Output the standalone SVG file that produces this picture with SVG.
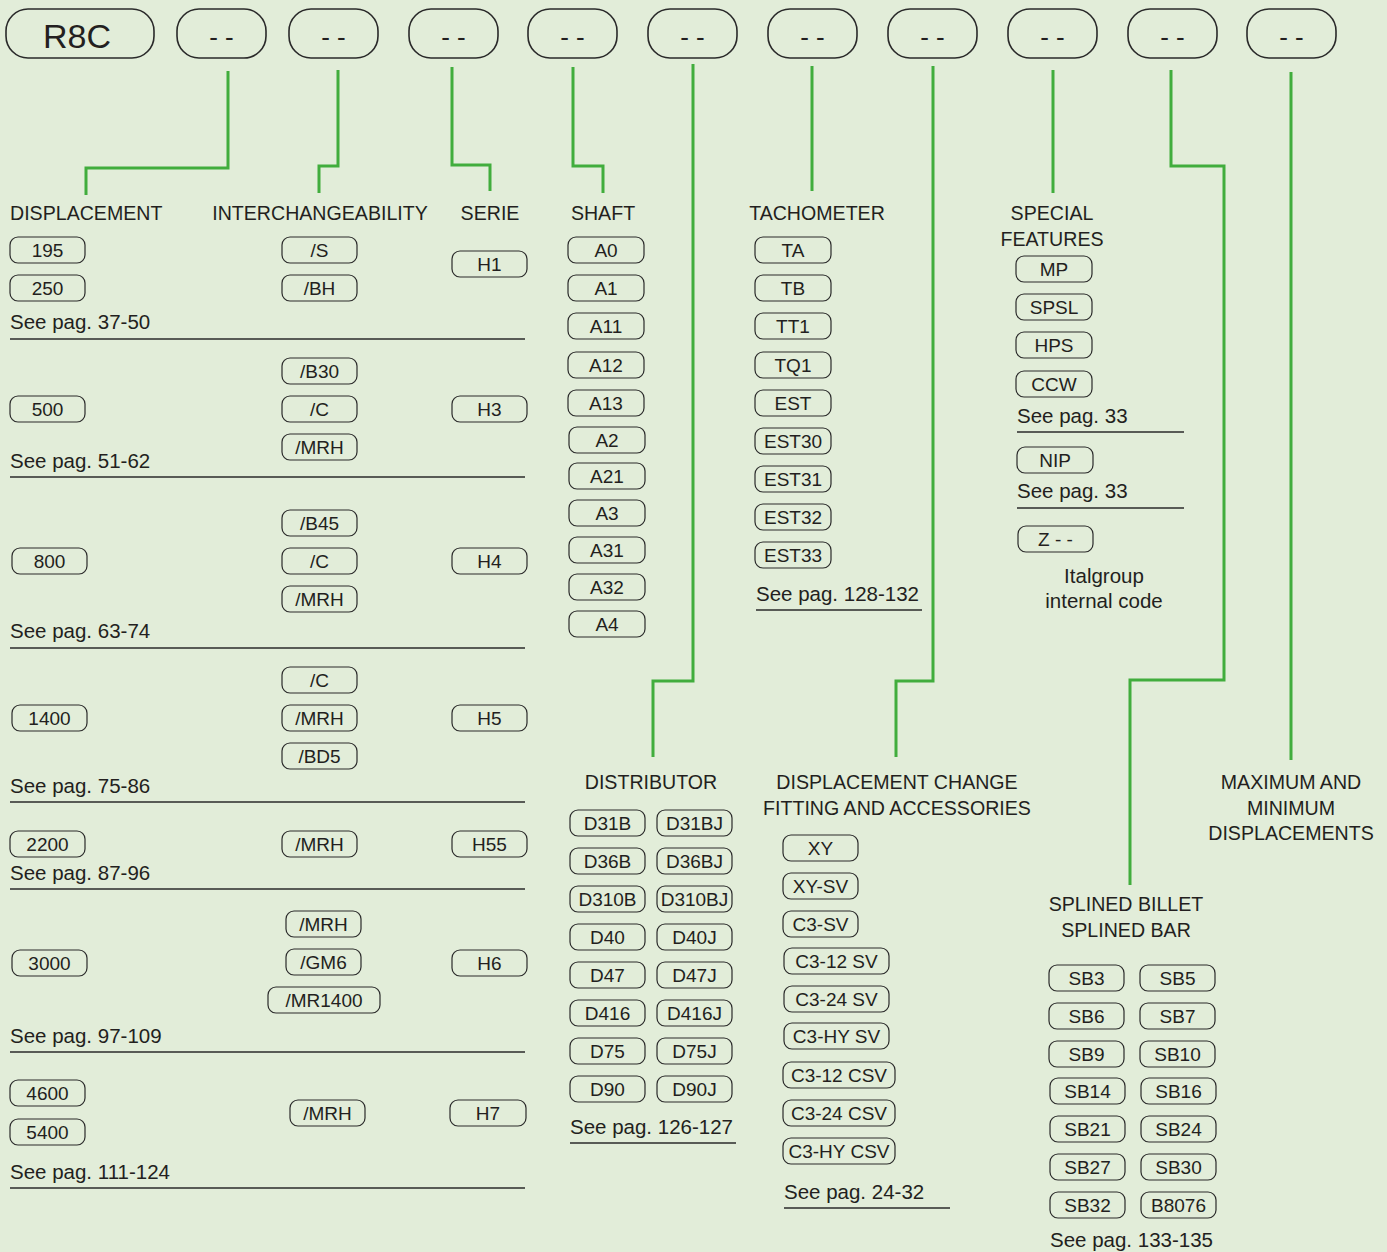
<svg xmlns="http://www.w3.org/2000/svg" width="1387" height="1252" viewBox="0 0 1387 1252">
<style>
text{font-family:"Liberation Sans",Arial,sans-serif;font-size:19px;fill:#231f20}
.m{text-anchor:middle}
.h{font-size:19.6px}
.s{font-size:20.5px}
.hb{fill:none;stroke:#2a2a2a;stroke-width:1.6}
.pl{fill:none;stroke:#2a2a2a;stroke-width:1.2}
.sep{stroke:#2a2a2a;stroke-width:1.3}
.cn{fill:none;stroke:#41ad3d;stroke-width:3}
.hd{font-size:26px}
.big{font-size:34px}
</style>
<rect width="1387" height="1252" fill="#e2edd9"/>

<g id="header">
<g id="h0"><rect class="hb" x="6" y="9" width="148" height="49" rx="22"/><text class="m big" x="77" y="48">R8C</text></g>
<g id="h1"><rect class="hb" x="177" y="9" width="89" height="49" rx="22"/><text class="m hd" x="221.5" y="46">- -</text></g>
<g id="h2"><rect class="hb" x="289" y="9" width="89" height="49" rx="22"/><text class="m hd" x="333.5" y="46">- -</text></g>
<g id="h3"><rect class="hb" x="409" y="9" width="89" height="49" rx="22"/><text class="m hd" x="453.5" y="46">- -</text></g>
<g id="h4"><rect class="hb" x="528" y="9" width="89" height="49" rx="22"/><text class="m hd" x="572.5" y="46">- -</text></g>
<g id="h5"><rect class="hb" x="648" y="9" width="89" height="49" rx="22"/><text class="m hd" x="692.5" y="46">- -</text></g>
<g id="h6"><rect class="hb" x="768" y="9" width="89" height="49" rx="22"/><text class="m hd" x="812.5" y="46">- -</text></g>
<g id="h7"><rect class="hb" x="888" y="9" width="89" height="49" rx="22"/><text class="m hd" x="932.5" y="46">- -</text></g>
<g id="h8"><rect class="hb" x="1008" y="9" width="89" height="49" rx="22"/><text class="m hd" x="1052.5" y="46">- -</text></g>
<g id="h9"><rect class="hb" x="1128" y="9" width="89" height="49" rx="22"/><text class="m hd" x="1172.5" y="46">- -</text></g>
<g id="h10"><rect class="hb" x="1247" y="9" width="89" height="49" rx="22"/><text class="m hd" x="1291.5" y="46">- -</text></g>
</g>

<g id="connectors">
<path class="cn" d="M228 71V168H86V195"/>
<path class="cn" d="M338 70V166H319V193"/>
<path class="cn" d="M452 67V165H490V191"/>
<path class="cn" d="M573 67V166H603V193"/>
<path class="cn" d="M693 64V681H653V757"/>
<path class="cn" d="M812 66V191"/>
<path class="cn" d="M933 66V681H896V757"/>
<path class="cn" d="M1053 70V193"/>
<path class="cn" d="M1171 70V166H1224V680H1130V885"/>
<path class="cn" d="M1291 72V760"/>
</g>

<g id="headings">
<text class="h" x="10" y="220">DISPLACEMENT</text>
<text class="m h" x="320" y="220">INTERCHANGEABILITY</text>
<text class="m h" x="490" y="220">SERIE</text>
<text class="m h" x="603" y="220">SHAFT</text>
<text class="m h" x="817" y="220">TACHOMETER</text>
<text class="m h" x="1052" y="220">SPECIAL</text>
<text class="m h" x="1052" y="246">FEATURES</text>
<text class="m h" x="651" y="789">DISTRIBUTOR</text>
<text class="m h" x="897" y="789">DISPLACEMENT CHANGE</text>
<text class="m h" x="897" y="815">FITTING AND ACCESSORIES</text>
<text class="m h" x="1291" y="789">MAXIMUM AND</text>
<text class="m h" x="1291" y="815">MINIMUM</text>
<text class="m h" x="1291" y="840">DISPLACEMENTS</text>
<text class="m h" x="1126" y="911">SPLINED BILLET</text>
<text class="m h" x="1126" y="937">SPLINED BAR</text>
</g>

<g id="displacement">
<g id="d195"><rect class="pl" x="10" y="237" width="75" height="26" rx="8"/><text class="m" x="47.5" y="257">195</text></g>
<g id="d250"><rect class="pl" x="10" y="275" width="75" height="26" rx="8"/><text class="m" x="47.5" y="295">250</text></g>
<text class="s" x="10" y="329">See pag. 37-50</text>
<line class="sep" x1="10" y1="339" x2="525" y2="339"/>
<g id="d500"><rect class="pl" x="10" y="396" width="75" height="26" rx="8"/><text class="m" x="47.5" y="416">500</text></g>
<text class="s" x="10" y="468">See pag. 51-62</text>
<line class="sep" x1="10" y1="477" x2="525" y2="477"/>
<g id="d800"><rect class="pl" x="12" y="548" width="75" height="26" rx="8"/><text class="m" x="49.5" y="568">800</text></g>
<text class="s" x="10" y="638">See pag. 63-74</text>
<line class="sep" x1="10" y1="648" x2="525" y2="648"/>
<g id="d1400"><rect class="pl" x="12" y="705" width="75" height="26" rx="8"/><text class="m" x="49.5" y="725">1400</text></g>
<text class="s" x="10" y="793">See pag. 75-86</text>
<line class="sep" x1="10" y1="802" x2="525" y2="802"/>
<g id="d2200"><rect class="pl" x="10" y="831" width="75" height="26" rx="8"/><text class="m" x="47.5" y="851">2200</text></g>
<text class="s" x="10" y="880">See pag. 87-96</text>
<line class="sep" x1="10" y1="889" x2="525" y2="889"/>
<g id="d3000"><rect class="pl" x="12" y="950" width="75" height="26" rx="8"/><text class="m" x="49.5" y="970">3000</text></g>
<text class="s" x="10" y="1043">See pag. 97-109</text>
<line class="sep" x1="10" y1="1052" x2="525" y2="1052"/>
<g id="d4600"><rect class="pl" x="10" y="1080" width="75" height="26" rx="8"/><text class="m" x="47.5" y="1100">4600</text></g>
<g id="d5400"><rect class="pl" x="10" y="1119" width="75" height="26" rx="8"/><text class="m" x="47.5" y="1139">5400</text></g>
<text class="s" x="10" y="1179">See pag. 111-124</text>
<line class="sep" x1="10" y1="1188" x2="525" y2="1188"/>
</g>

<g id="interchangeability">
<g><rect class="pl" x="282" y="237" width="75" height="26" rx="8"/><text class="m" x="319.5" y="257">/S</text></g>
<g><rect class="pl" x="282" y="275" width="75" height="26" rx="8"/><text class="m" x="319.5" y="295">/BH</text></g>
<g><rect class="pl" x="282" y="358" width="75" height="26" rx="8"/><text class="m" x="319.5" y="378">/B30</text></g>
<g><rect class="pl" x="282" y="396" width="75" height="26" rx="8"/><text class="m" x="319.5" y="416">/C</text></g>
<g><rect class="pl" x="282" y="434" width="75" height="26" rx="8"/><text class="m" x="319.5" y="454">/MRH</text></g>
<g><rect class="pl" x="282" y="510" width="75" height="26" rx="8"/><text class="m" x="319.5" y="530">/B45</text></g>
<g><rect class="pl" x="282" y="548" width="75" height="26" rx="8"/><text class="m" x="319.5" y="568">/C</text></g>
<g><rect class="pl" x="282" y="586" width="75" height="26" rx="8"/><text class="m" x="319.5" y="606">/MRH</text></g>
<g><rect class="pl" x="282" y="667" width="75" height="26" rx="8"/><text class="m" x="319.5" y="687">/C</text></g>
<g><rect class="pl" x="282" y="705" width="75" height="26" rx="8"/><text class="m" x="319.5" y="725">/MRH</text></g>
<g><rect class="pl" x="282" y="743" width="75" height="26" rx="8"/><text class="m" x="319.5" y="763">/BD5</text></g>
<g><rect class="pl" x="282" y="831" width="75" height="26" rx="8"/><text class="m" x="319.5" y="851">/MRH</text></g>
<g><rect class="pl" x="286" y="911" width="75" height="26" rx="8"/><text class="m" x="323.5" y="931">/MRH</text></g>
<g><rect class="pl" x="286" y="949" width="75" height="26" rx="8"/><text class="m" x="323.5" y="969">/GM6</text></g>
<g><rect class="pl" x="268" y="987" width="112" height="26" rx="8"/><text class="m" x="324" y="1007">/MR1400</text></g>
<g><rect class="pl" x="290" y="1100" width="75" height="26" rx="8"/><text class="m" x="327.5" y="1120">/MRH</text></g>
</g>

<g id="serie">
<g><rect class="pl" x="452" y="251" width="75" height="26" rx="8"/><text class="m" x="489.5" y="271">H1</text></g>
<g><rect class="pl" x="452" y="396" width="75" height="26" rx="8"/><text class="m" x="489.5" y="416">H3</text></g>
<g><rect class="pl" x="452" y="548" width="75" height="26" rx="8"/><text class="m" x="489.5" y="568">H4</text></g>
<g><rect class="pl" x="452" y="705" width="75" height="26" rx="8"/><text class="m" x="489.5" y="725">H5</text></g>
<g><rect class="pl" x="452" y="831" width="75" height="26" rx="8"/><text class="m" x="489.5" y="851">H55</text></g>
<g><rect class="pl" x="452" y="950" width="75" height="26" rx="8"/><text class="m" x="489.5" y="970">H6</text></g>
<g><rect class="pl" x="450" y="1100" width="76" height="26" rx="8"/><text class="m" x="488" y="1120">H7</text></g>
</g>

<g id="shaft">
<g><rect class="pl" x="568" y="237" width="76" height="26" rx="8"/><text class="m" x="606" y="257">A0</text></g>
<g><rect class="pl" x="568" y="275" width="76" height="26" rx="8"/><text class="m" x="606" y="295">A1</text></g>
<g><rect class="pl" x="568" y="313" width="76" height="26" rx="8"/><text class="m" x="606" y="333">A11</text></g>
<g><rect class="pl" x="568" y="352" width="76" height="26" rx="8"/><text class="m" x="606" y="372">A12</text></g>
<g><rect class="pl" x="568" y="390" width="76" height="26" rx="8"/><text class="m" x="606" y="410">A13</text></g>
<g><rect class="pl" x="569" y="427" width="76" height="26" rx="8"/><text class="m" x="607" y="447">A2</text></g>
<g><rect class="pl" x="569" y="463" width="76" height="26" rx="8"/><text class="m" x="607" y="483">A21</text></g>
<g><rect class="pl" x="569" y="500" width="76" height="26" rx="8"/><text class="m" x="607" y="520">A3</text></g>
<g><rect class="pl" x="569" y="537" width="76" height="26" rx="8"/><text class="m" x="607" y="557">A31</text></g>
<g><rect class="pl" x="569" y="574" width="76" height="26" rx="8"/><text class="m" x="607" y="594">A32</text></g>
<g><rect class="pl" x="569" y="611" width="76" height="26" rx="8"/><text class="m" x="607" y="631">A4</text></g>
</g>

<g id="tachometer">
<g><rect class="pl" x="755" y="237" width="76" height="26" rx="8"/><text class="m" x="793" y="257">TA</text></g>
<g><rect class="pl" x="755" y="275" width="76" height="26" rx="8"/><text class="m" x="793" y="295">TB</text></g>
<g><rect class="pl" x="755" y="313" width="76" height="26" rx="8"/><text class="m" x="793" y="333">TT1</text></g>
<g><rect class="pl" x="755" y="352" width="76" height="26" rx="8"/><text class="m" x="793" y="372">TQ1</text></g>
<g><rect class="pl" x="755" y="390" width="76" height="26" rx="8"/><text class="m" x="793" y="410">EST</text></g>
<g><rect class="pl" x="755" y="428" width="76" height="26" rx="8"/><text class="m" x="793" y="448">EST30</text></g>
<g><rect class="pl" x="755" y="466" width="76" height="26" rx="8"/><text class="m" x="793" y="486">EST31</text></g>
<g><rect class="pl" x="755" y="504" width="76" height="26" rx="8"/><text class="m" x="793" y="524">EST32</text></g>
<g><rect class="pl" x="755" y="542" width="76" height="26" rx="8"/><text class="m" x="793" y="562">EST33</text></g>
<text class="s" x="756" y="601">See pag. 128-132</text>
<line class="sep" x1="756" y1="610" x2="922" y2="610"/>
</g>

<g id="special">
<g><rect class="pl" x="1016" y="256" width="76" height="26" rx="8"/><text class="m" x="1054" y="276">MP</text></g>
<g><rect class="pl" x="1016" y="294" width="76" height="26" rx="8"/><text class="m" x="1054" y="314">SPSL</text></g>
<g><rect class="pl" x="1016" y="332" width="76" height="26" rx="8"/><text class="m" x="1054" y="352">HPS</text></g>
<g><rect class="pl" x="1016" y="371" width="76" height="26" rx="8"/><text class="m" x="1054" y="391">CCW</text></g>
<text class="s" x="1017" y="423">See pag. 33</text>
<line class="sep" x1="1017" y1="432" x2="1184" y2="432"/>
<g><rect class="pl" x="1017" y="447" width="76" height="26" rx="8"/><text class="m" x="1055" y="467">NIP</text></g>
<text class="s" x="1017" y="498">See pag. 33</text>
<line class="sep" x1="1017" y1="508" x2="1184" y2="508"/>
<g><rect class="pl" x="1018" y="526" width="75" height="26" rx="8"/><text class="m" x="1055.5" y="546">Z - -</text></g>
<text class="m s" x="1104" y="583">Italgroup</text>
<text class="m s" x="1104" y="608">internal code</text>
</g>

<g id="distributor">
<g><rect class="pl" x="570" y="810" width="75" height="26" rx="8"/><text class="m" x="607.5" y="830">D31B</text></g>
<g><rect class="pl" x="657" y="810" width="75" height="26" rx="8"/><text class="m" x="694.5" y="830">D31BJ</text></g>
<g><rect class="pl" x="570" y="848" width="75" height="26" rx="8"/><text class="m" x="607.5" y="868">D36B</text></g>
<g><rect class="pl" x="657" y="848" width="75" height="26" rx="8"/><text class="m" x="694.5" y="868">D36BJ</text></g>
<g><rect class="pl" x="570" y="886" width="75" height="26" rx="8"/><text class="m" x="607.5" y="906">D310B</text></g>
<g><rect class="pl" x="657" y="886" width="75" height="26" rx="8"/><text class="m" x="694.5" y="906">D310BJ</text></g>
<g><rect class="pl" x="570" y="924" width="75" height="26" rx="8"/><text class="m" x="607.5" y="944">D40</text></g>
<g><rect class="pl" x="657" y="924" width="75" height="26" rx="8"/><text class="m" x="694.5" y="944">D40J</text></g>
<g><rect class="pl" x="570" y="962" width="75" height="26" rx="8"/><text class="m" x="607.5" y="982">D47</text></g>
<g><rect class="pl" x="657" y="962" width="75" height="26" rx="8"/><text class="m" x="694.5" y="982">D47J</text></g>
<g><rect class="pl" x="570" y="1000" width="75" height="26" rx="8"/><text class="m" x="607.5" y="1020">D416</text></g>
<g><rect class="pl" x="657" y="1000" width="75" height="26" rx="8"/><text class="m" x="694.5" y="1020">D416J</text></g>
<g><rect class="pl" x="570" y="1038" width="75" height="26" rx="8"/><text class="m" x="607.5" y="1058">D75</text></g>
<g><rect class="pl" x="657" y="1038" width="75" height="26" rx="8"/><text class="m" x="694.5" y="1058">D75J</text></g>
<g><rect class="pl" x="570" y="1076" width="75" height="26" rx="8"/><text class="m" x="607.5" y="1096">D90</text></g>
<g><rect class="pl" x="657" y="1076" width="75" height="26" rx="8"/><text class="m" x="694.5" y="1096">D90J</text></g>
<text class="s" x="570" y="1134">See pag. 126-127</text>
<line class="sep" x1="570" y1="1143" x2="736" y2="1143"/>
</g>

<g id="displacement-change">
<g><rect class="pl" x="783" y="835" width="75" height="26" rx="8"/><text class="m" x="820.5" y="855">XY</text></g>
<g><rect class="pl" x="783" y="873" width="75" height="26" rx="8"/><text class="m" x="820.5" y="893">XY-SV</text></g>
<g><rect class="pl" x="783" y="911" width="75" height="26" rx="8"/><text class="m" x="820.5" y="931">C3-SV</text></g>
<g><rect class="pl" x="784" y="948" width="105" height="26" rx="8"/><text class="m" x="836.5" y="968">C3-12 SV</text></g>
<g><rect class="pl" x="784" y="986" width="105" height="26" rx="8"/><text class="m" x="836.5" y="1006">C3-24 SV</text></g>
<g><rect class="pl" x="784" y="1023" width="105" height="26" rx="8"/><text class="m" x="836.5" y="1043">C3-HY SV</text></g>
<g><rect class="pl" x="783" y="1062" width="112" height="26" rx="8"/><text class="m" x="839" y="1082">C3-12 CSV</text></g>
<g><rect class="pl" x="783" y="1100" width="112" height="26" rx="8"/><text class="m" x="839" y="1120">C3-24 CSV</text></g>
<g><rect class="pl" x="783" y="1138" width="112" height="26" rx="8"/><text class="m" x="839" y="1158">C3-HY CSV</text></g>
<text class="s" x="784" y="1199">See pag. 24-32</text>
<line class="sep" x1="784" y1="1208" x2="950" y2="1208"/>
</g>

<g id="splined">
<g><rect class="pl" x="1049" y="965" width="75" height="26" rx="8"/><text class="m" x="1086.5" y="985">SB3</text></g>
<g><rect class="pl" x="1140" y="965" width="75" height="26" rx="8"/><text class="m" x="1177.5" y="985">SB5</text></g>
<g><rect class="pl" x="1049" y="1003" width="75" height="26" rx="8"/><text class="m" x="1086.5" y="1023">SB6</text></g>
<g><rect class="pl" x="1140" y="1003" width="75" height="26" rx="8"/><text class="m" x="1177.5" y="1023">SB7</text></g>
<g><rect class="pl" x="1049" y="1041" width="75" height="26" rx="8"/><text class="m" x="1086.5" y="1061">SB9</text></g>
<g><rect class="pl" x="1140" y="1041" width="75" height="26" rx="8"/><text class="m" x="1177.5" y="1061">SB10</text></g>
<g><rect class="pl" x="1050" y="1078" width="75" height="26" rx="8"/><text class="m" x="1087.5" y="1098">SB14</text></g>
<g><rect class="pl" x="1141" y="1078" width="75" height="26" rx="8"/><text class="m" x="1178.5" y="1098">SB16</text></g>
<g><rect class="pl" x="1050" y="1116" width="75" height="26" rx="8"/><text class="m" x="1087.5" y="1136">SB21</text></g>
<g><rect class="pl" x="1141" y="1116" width="75" height="26" rx="8"/><text class="m" x="1178.5" y="1136">SB24</text></g>
<g><rect class="pl" x="1050" y="1154" width="75" height="26" rx="8"/><text class="m" x="1087.5" y="1174">SB27</text></g>
<g><rect class="pl" x="1141" y="1154" width="75" height="26" rx="8"/><text class="m" x="1178.5" y="1174">SB30</text></g>
<g><rect class="pl" x="1050" y="1192" width="75" height="26" rx="8"/><text class="m" x="1087.5" y="1212">SB32</text></g>
<g><rect class="pl" x="1141" y="1192" width="75" height="26" rx="8"/><text class="m" x="1178.5" y="1212">B8076</text></g>
<text class="s" x="1050" y="1247">See pag. 133-135</text>
</g>
</svg>
